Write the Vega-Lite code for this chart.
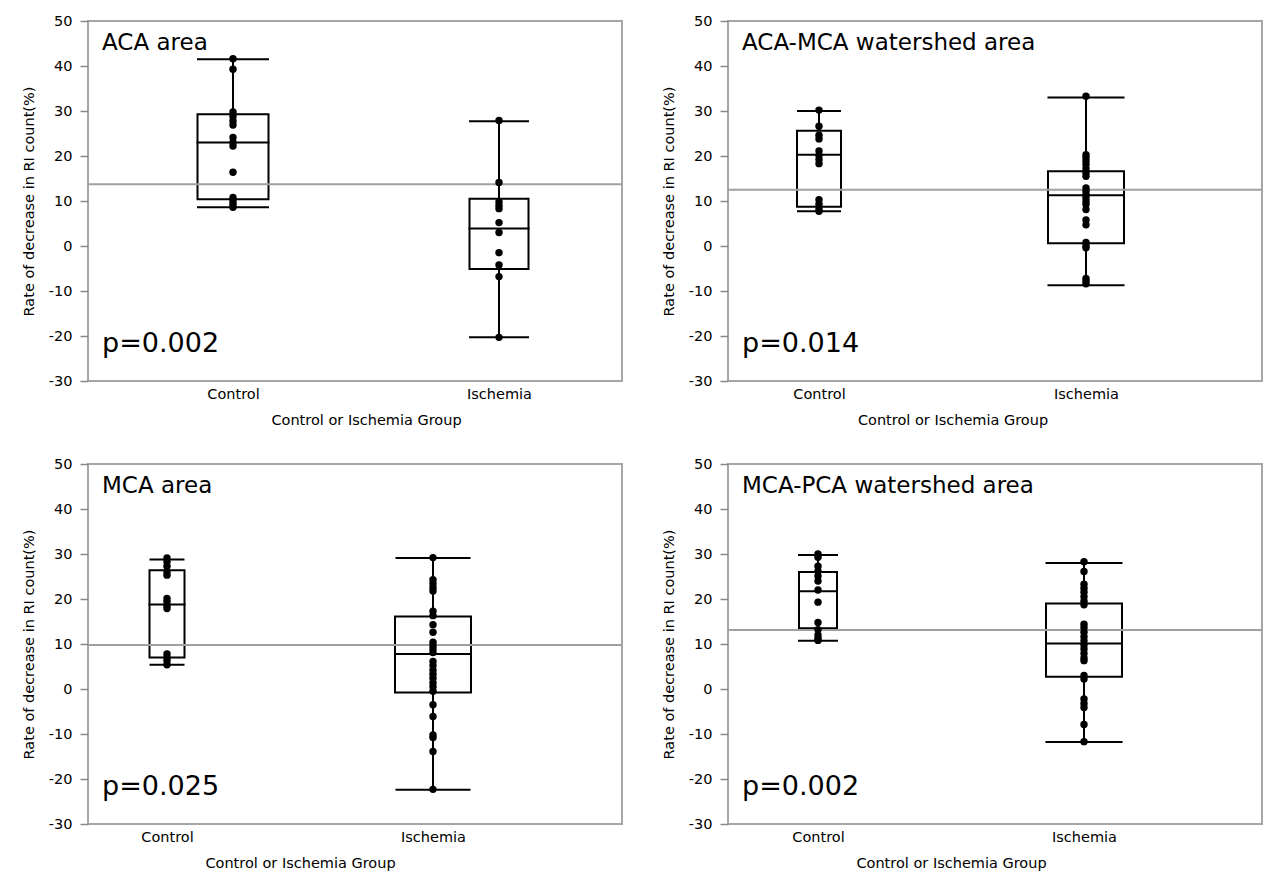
{
  "$schema": "https://vega.github.io/schema/vega-lite/v6.json",
  "background": "white",
  "padding": {"left": 20, "top": 12, "right": 0, "bottom": 0},
  "datasets": {
    "pts": [
      {"region": "ACA area", "group": "Control", "value": 41.6},
      {"region": "ACA area", "group": "Control", "value": 39.3},
      {"region": "ACA area", "group": "Control", "value": 29.8},
      {"region": "ACA area", "group": "Control", "value": 28.8},
      {"region": "ACA area", "group": "Control", "value": 27.8},
      {"region": "ACA area", "group": "Control", "value": 26.9},
      {"region": "ACA area", "group": "Control", "value": 24.1},
      {"region": "ACA area", "group": "Control", "value": 23.0},
      {"region": "ACA area", "group": "Control", "value": 22.2},
      {"region": "ACA area", "group": "Control", "value": 16.4},
      {"region": "ACA area", "group": "Control", "value": 10.8},
      {"region": "ACA area", "group": "Control", "value": 10.0},
      {"region": "ACA area", "group": "Control", "value": 9.3},
      {"region": "ACA area", "group": "Control", "value": 8.6},
      {"region": "ACA area", "group": "Ischemia", "value": 27.9},
      {"region": "ACA area", "group": "Ischemia", "value": 14.1},
      {"region": "ACA area", "group": "Ischemia", "value": 9.8},
      {"region": "ACA area", "group": "Ischemia", "value": 9.0},
      {"region": "ACA area", "group": "Ischemia", "value": 8.3},
      {"region": "ACA area", "group": "Ischemia", "value": 5.2},
      {"region": "ACA area", "group": "Ischemia", "value": 3.0},
      {"region": "ACA area", "group": "Ischemia", "value": -1.5},
      {"region": "ACA area", "group": "Ischemia", "value": -4.2},
      {"region": "ACA area", "group": "Ischemia", "value": -6.8},
      {"region": "ACA area", "group": "Ischemia", "value": -20.3},
      {"region": "ACA-MCA watershed area", "group": "Control", "value": 30.2},
      {"region": "ACA-MCA watershed area", "group": "Control", "value": 26.6},
      {"region": "ACA-MCA watershed area", "group": "Control", "value": 24.6},
      {"region": "ACA-MCA watershed area", "group": "Control", "value": 23.8},
      {"region": "ACA-MCA watershed area", "group": "Control", "value": 21.1},
      {"region": "ACA-MCA watershed area", "group": "Control", "value": 20.1},
      {"region": "ACA-MCA watershed area", "group": "Control", "value": 19.2},
      {"region": "ACA-MCA watershed area", "group": "Control", "value": 18.3},
      {"region": "ACA-MCA watershed area", "group": "Control", "value": 10.3},
      {"region": "ACA-MCA watershed area", "group": "Control", "value": 9.3},
      {"region": "ACA-MCA watershed area", "group": "Control", "value": 8.2},
      {"region": "ACA-MCA watershed area", "group": "Control", "value": 7.7},
      {"region": "ACA-MCA watershed area", "group": "Ischemia", "value": 33.3},
      {"region": "ACA-MCA watershed area", "group": "Ischemia", "value": 20.3},
      {"region": "ACA-MCA watershed area", "group": "Ischemia", "value": 19.6},
      {"region": "ACA-MCA watershed area", "group": "Ischemia", "value": 18.9},
      {"region": "ACA-MCA watershed area", "group": "Ischemia", "value": 18.1},
      {"region": "ACA-MCA watershed area", "group": "Ischemia", "value": 17.2},
      {"region": "ACA-MCA watershed area", "group": "Ischemia", "value": 16.3},
      {"region": "ACA-MCA watershed area", "group": "Ischemia", "value": 15.5},
      {"region": "ACA-MCA watershed area", "group": "Ischemia", "value": 12.9},
      {"region": "ACA-MCA watershed area", "group": "Ischemia", "value": 12.2},
      {"region": "ACA-MCA watershed area", "group": "Ischemia", "value": 11.4},
      {"region": "ACA-MCA watershed area", "group": "Ischemia", "value": 10.7},
      {"region": "ACA-MCA watershed area", "group": "Ischemia", "value": 10.0},
      {"region": "ACA-MCA watershed area", "group": "Ischemia", "value": 9.3},
      {"region": "ACA-MCA watershed area", "group": "Ischemia", "value": 8.1},
      {"region": "ACA-MCA watershed area", "group": "Ischemia", "value": 5.8},
      {"region": "ACA-MCA watershed area", "group": "Ischemia", "value": 4.7},
      {"region": "ACA-MCA watershed area", "group": "Ischemia", "value": 0.8},
      {"region": "ACA-MCA watershed area", "group": "Ischemia", "value": 0.0},
      {"region": "ACA-MCA watershed area", "group": "Ischemia", "value": -0.4},
      {"region": "ACA-MCA watershed area", "group": "Ischemia", "value": -7.2},
      {"region": "ACA-MCA watershed area", "group": "Ischemia", "value": -7.8},
      {"region": "ACA-MCA watershed area", "group": "Ischemia", "value": -8.4},
      {"region": "MCA area", "group": "Control", "value": 29.1},
      {"region": "MCA area", "group": "Control", "value": 28.3},
      {"region": "MCA area", "group": "Control", "value": 27.3},
      {"region": "MCA area", "group": "Control", "value": 26.0},
      {"region": "MCA area", "group": "Control", "value": 25.3},
      {"region": "MCA area", "group": "Control", "value": 20.1},
      {"region": "MCA area", "group": "Control", "value": 19.4},
      {"region": "MCA area", "group": "Control", "value": 18.5},
      {"region": "MCA area", "group": "Control", "value": 17.9},
      {"region": "MCA area", "group": "Control", "value": 7.8},
      {"region": "MCA area", "group": "Control", "value": 7.0},
      {"region": "MCA area", "group": "Control", "value": 6.3},
      {"region": "MCA area", "group": "Control", "value": 5.4},
      {"region": "MCA area", "group": "Ischemia", "value": 29.2},
      {"region": "MCA area", "group": "Ischemia", "value": 24.3},
      {"region": "MCA area", "group": "Ischemia", "value": 23.4},
      {"region": "MCA area", "group": "Ischemia", "value": 22.5},
      {"region": "MCA area", "group": "Ischemia", "value": 21.8},
      {"region": "MCA area", "group": "Ischemia", "value": 17.3},
      {"region": "MCA area", "group": "Ischemia", "value": 16.3},
      {"region": "MCA area", "group": "Ischemia", "value": 14.3},
      {"region": "MCA area", "group": "Ischemia", "value": 12.6},
      {"region": "MCA area", "group": "Ischemia", "value": 10.4},
      {"region": "MCA area", "group": "Ischemia", "value": 9.6},
      {"region": "MCA area", "group": "Ischemia", "value": 8.9},
      {"region": "MCA area", "group": "Ischemia", "value": 8.1},
      {"region": "MCA area", "group": "Ischemia", "value": 6.1},
      {"region": "MCA area", "group": "Ischemia", "value": 5.2},
      {"region": "MCA area", "group": "Ischemia", "value": 4.2},
      {"region": "MCA area", "group": "Ischemia", "value": 3.3},
      {"region": "MCA area", "group": "Ischemia", "value": 2.4},
      {"region": "MCA area", "group": "Ischemia", "value": 1.4},
      {"region": "MCA area", "group": "Ischemia", "value": 0.5},
      {"region": "MCA area", "group": "Ischemia", "value": -0.5},
      {"region": "MCA area", "group": "Ischemia", "value": -3.5},
      {"region": "MCA area", "group": "Ischemia", "value": -6.1},
      {"region": "MCA area", "group": "Ischemia", "value": -10.2},
      {"region": "MCA area", "group": "Ischemia", "value": -10.8},
      {"region": "MCA area", "group": "Ischemia", "value": -13.9},
      {"region": "MCA area", "group": "Ischemia", "value": -22.3},
      {"region": "MCA-PCA watershed area", "group": "Control", "value": 30.0},
      {"region": "MCA-PCA watershed area", "group": "Control", "value": 29.3},
      {"region": "MCA-PCA watershed area", "group": "Control", "value": 27.3},
      {"region": "MCA-PCA watershed area", "group": "Control", "value": 26.2},
      {"region": "MCA-PCA watershed area", "group": "Control", "value": 25.1},
      {"region": "MCA-PCA watershed area", "group": "Control", "value": 24.0},
      {"region": "MCA-PCA watershed area", "group": "Control", "value": 22.0},
      {"region": "MCA-PCA watershed area", "group": "Control", "value": 19.3},
      {"region": "MCA-PCA watershed area", "group": "Control", "value": 14.8},
      {"region": "MCA-PCA watershed area", "group": "Control", "value": 13.2},
      {"region": "MCA-PCA watershed area", "group": "Control", "value": 12.0},
      {"region": "MCA-PCA watershed area", "group": "Control", "value": 11.3},
      {"region": "MCA-PCA watershed area", "group": "Control", "value": 10.8},
      {"region": "MCA-PCA watershed area", "group": "Ischemia", "value": 28.3},
      {"region": "MCA-PCA watershed area", "group": "Ischemia", "value": 26.1},
      {"region": "MCA-PCA watershed area", "group": "Ischemia", "value": 23.3},
      {"region": "MCA-PCA watershed area", "group": "Ischemia", "value": 22.4},
      {"region": "MCA-PCA watershed area", "group": "Ischemia", "value": 21.5},
      {"region": "MCA-PCA watershed area", "group": "Ischemia", "value": 20.5},
      {"region": "MCA-PCA watershed area", "group": "Ischemia", "value": 19.5},
      {"region": "MCA-PCA watershed area", "group": "Ischemia", "value": 18.7},
      {"region": "MCA-PCA watershed area", "group": "Ischemia", "value": 14.4},
      {"region": "MCA-PCA watershed area", "group": "Ischemia", "value": 13.6},
      {"region": "MCA-PCA watershed area", "group": "Ischemia", "value": 12.6},
      {"region": "MCA-PCA watershed area", "group": "Ischemia", "value": 11.6},
      {"region": "MCA-PCA watershed area", "group": "Ischemia", "value": 10.7},
      {"region": "MCA-PCA watershed area", "group": "Ischemia", "value": 9.8},
      {"region": "MCA-PCA watershed area", "group": "Ischemia", "value": 8.9},
      {"region": "MCA-PCA watershed area", "group": "Ischemia", "value": 7.9},
      {"region": "MCA-PCA watershed area", "group": "Ischemia", "value": 6.9},
      {"region": "MCA-PCA watershed area", "group": "Ischemia", "value": 6.3},
      {"region": "MCA-PCA watershed area", "group": "Ischemia", "value": 3.0},
      {"region": "MCA-PCA watershed area", "group": "Ischemia", "value": 2.2},
      {"region": "MCA-PCA watershed area", "group": "Ischemia", "value": -2.2},
      {"region": "MCA-PCA watershed area", "group": "Ischemia", "value": -3.2},
      {"region": "MCA-PCA watershed area", "group": "Ischemia", "value": -4.1},
      {"region": "MCA-PCA watershed area", "group": "Ischemia", "value": -7.9},
      {"region": "MCA-PCA watershed area", "group": "Ischemia", "value": -11.7}
    ],
    "boxes": [
      {"region": "ACA area", "group": "Control", "min": 8.6, "q1": 10.4, "median": 23.0, "q3": 29.3, "max": 41.5},
      {"region": "ACA area", "group": "Ischemia", "min": -20.3, "q1": -5.1, "median": 3.9, "q3": 10.5, "max": 27.7},
      {"region": "ACA-MCA watershed area", "group": "Control", "min": 7.7, "q1": 8.7, "median": 20.3, "q3": 25.6, "max": 30.0},
      {"region": "ACA-MCA watershed area", "group": "Ischemia", "min": -8.7, "q1": 0.6, "median": 11.3, "q3": 16.6, "max": 33.0},
      {"region": "MCA area", "group": "Control", "min": 5.4, "q1": 7.0, "median": 18.8, "q3": 26.4, "max": 28.8},
      {"region": "MCA area", "group": "Ischemia", "min": -22.4, "q1": -0.8, "median": 7.8, "q3": 16.1, "max": 29.1},
      {"region": "MCA-PCA watershed area", "group": "Control", "min": 10.7, "q1": 13.5, "median": 21.7, "q3": 26.0, "max": 29.8},
      {"region": "MCA-PCA watershed area", "group": "Ischemia", "min": -11.8, "q1": 2.7, "median": 10.1, "q3": 19.0, "max": 28.0}
    ],
    "means": [
      {"region": "ACA area", "mean": 13.7},
      {"region": "ACA-MCA watershed area", "mean": 12.5},
      {"region": "MCA area", "mean": 9.8},
      {"region": "MCA-PCA watershed area", "mean": 13.1}
    ]
  },
  "columns": 2,
  "spacing": {"row": 27, "column": 36},
  "concat": [
    {
      "title": {"text": "ACA area", "subtitle": "p=0.002"},
      "width": 534, "height": 360,
      "resolve": {"scale": {"size": "independent"}},
      "layer": [
        {"data": {"name": "boxes"}, "transform": [{"filter": "datum.region === 'ACA area'"}],
         "mark": {"type": "rule", "color": "black", "strokeWidth": 2},
         "encoding": {
           "x": {"field": "group", "type": "nominal", "title": "Control or Ischemia Group", "scale": {"type": "point", "domain": ["Control", "Ischemia"], "range": [145, 411], "padding": 0}},
           "y": {"field": "min", "type": "quantitative", "title": "Rate of decrease in RI count(%)", "scale": {"domain": [-30, 50], "nice": false, "zero": false},
                 "axis": {"values": [-30, -25, -20, -15, -10, -5, 0, 5, 10, 15, 20, 25, 30, 35, 40, 45, 50], "labelExpr": "datum.value % 10 === 0 ? toString(datum.value) : ''", "tickSize": {"condition": {"test": "datum.value % 10 === 0", "value": 8}, "value": 4}, "labelOverlap": false}},
           "y2": {"field": "max"}}},
        {"data": {"name": "boxes"}, "transform": [{"filter": "datum.region === 'ACA area'"}],
         "mark": {"type": "bar", "fill": "white", "stroke": "black", "strokeWidth": 2},
         "encoding": {
           "x": {"field": "group", "type": "nominal", "title": "Control or Ischemia Group", "scale": {"type": "point", "domain": ["Control", "Ischemia"], "range": [145, 411], "padding": 0}},
           "y": {"field": "q1", "type": "quantitative", "title": "Rate of decrease in RI count(%)"},
           "y2": {"field": "q3"},
           "size": {"field": "group", "type": "nominal", "scale": {"domain": ["Control", "Ischemia"], "range": [71, 59]}, "legend": null}}},
        {"data": {"name": "means"}, "transform": [{"filter": "datum.region === 'ACA area'"}],
         "mark": {"type": "rule", "color": "#a0a0a0", "strokeWidth": 2},
         "encoding": {"y": {"field": "mean", "type": "quantitative", "title": "Rate of decrease in RI count(%)"}}},
        {"data": {"name": "boxes"}, "transform": [{"filter": "datum.region === 'ACA area'"}],
         "mark": {"type": "tick", "color": "black", "thickness": 2, "opacity": 1},
         "encoding": {
           "x": {"field": "group", "type": "nominal", "title": "Control or Ischemia Group", "scale": {"type": "point", "domain": ["Control", "Ischemia"], "range": [145, 411], "padding": 0}},
           "y": {"field": "median", "type": "quantitative", "title": "Rate of decrease in RI count(%)"},
           "size": {"field": "group", "type": "nominal", "scale": {"domain": ["Control", "Ischemia"], "range": [73, 61]}, "legend": null}}},
        {"data": {"name": "boxes"}, "transform": [{"filter": "datum.region === 'ACA area'"}],
         "mark": {"type": "tick", "color": "black", "thickness": 2, "opacity": 1},
         "encoding": {
           "x": {"field": "group", "type": "nominal", "title": "Control or Ischemia Group", "scale": {"type": "point", "domain": ["Control", "Ischemia"], "range": [145, 411], "padding": 0}},
           "y": {"field": "min", "type": "quantitative", "title": "Rate of decrease in RI count(%)"},
           "size": {"field": "group", "type": "nominal", "scale": {"domain": ["Control", "Ischemia"], "range": [72, 60]}, "legend": null}}},
        {"data": {"name": "boxes"}, "transform": [{"filter": "datum.region === 'ACA area'"}],
         "mark": {"type": "tick", "color": "black", "thickness": 2, "opacity": 1},
         "encoding": {
           "x": {"field": "group", "type": "nominal", "title": "Control or Ischemia Group", "scale": {"type": "point", "domain": ["Control", "Ischemia"], "range": [145, 411], "padding": 0}},
           "y": {"field": "max", "type": "quantitative", "title": "Rate of decrease in RI count(%)"},
           "size": {"field": "group", "type": "nominal", "scale": {"domain": ["Control", "Ischemia"], "range": [72, 60]}, "legend": null}}},
        {"data": {"name": "pts"}, "transform": [{"filter": "datum.region === 'ACA area'"}],
         "mark": {"type": "circle", "color": "black", "opacity": 1, "size": 55},
         "encoding": {
           "x": {"field": "group", "type": "nominal", "title": "Control or Ischemia Group", "scale": {"type": "point", "domain": ["Control", "Ischemia"], "range": [145, 411], "padding": 0}},
           "y": {"field": "value", "type": "quantitative", "title": "Rate of decrease in RI count(%)"}}}
      ]
    },
    {
      "title": {"text": "ACA-MCA watershed area", "subtitle": "p=0.014"},
      "width": 534, "height": 360,
      "resolve": {"scale": {"size": "independent"}},
      "layer": [
        {"data": {"name": "boxes"}, "transform": [{"filter": "datum.region === 'ACA-MCA watershed area'"}],
         "mark": {"type": "rule", "color": "black", "strokeWidth": 2},
         "encoding": {
           "x": {"field": "group", "type": "nominal", "title": "Control or Ischemia Group", "scale": {"type": "point", "domain": ["Control", "Ischemia"], "range": [91, 358], "padding": 0}},
           "y": {"field": "min", "type": "quantitative", "title": "Rate of decrease in RI count(%)", "scale": {"domain": [-30, 50], "nice": false, "zero": false},
                 "axis": {"values": [-30, -25, -20, -15, -10, -5, 0, 5, 10, 15, 20, 25, 30, 35, 40, 45, 50], "labelExpr": "datum.value % 10 === 0 ? toString(datum.value) : ''", "tickSize": {"condition": {"test": "datum.value % 10 === 0", "value": 8}, "value": 4}, "labelOverlap": false}},
           "y2": {"field": "max"}}},
        {"data": {"name": "boxes"}, "transform": [{"filter": "datum.region === 'ACA-MCA watershed area'"}],
         "mark": {"type": "bar", "fill": "white", "stroke": "black", "strokeWidth": 2},
         "encoding": {
           "x": {"field": "group", "type": "nominal", "title": "Control or Ischemia Group", "scale": {"type": "point", "domain": ["Control", "Ischemia"], "range": [91, 358], "padding": 0}},
           "y": {"field": "q1", "type": "quantitative", "title": "Rate of decrease in RI count(%)"},
           "y2": {"field": "q3"},
           "size": {"field": "group", "type": "nominal", "scale": {"domain": ["Control", "Ischemia"], "range": [44, 76]}, "legend": null}}},
        {"data": {"name": "means"}, "transform": [{"filter": "datum.region === 'ACA-MCA watershed area'"}],
         "mark": {"type": "rule", "color": "#a0a0a0", "strokeWidth": 2},
         "encoding": {"y": {"field": "mean", "type": "quantitative", "title": "Rate of decrease in RI count(%)"}}},
        {"data": {"name": "boxes"}, "transform": [{"filter": "datum.region === 'ACA-MCA watershed area'"}],
         "mark": {"type": "tick", "color": "black", "thickness": 2, "opacity": 1},
         "encoding": {
           "x": {"field": "group", "type": "nominal", "title": "Control or Ischemia Group", "scale": {"type": "point", "domain": ["Control", "Ischemia"], "range": [91, 358], "padding": 0}},
           "y": {"field": "median", "type": "quantitative", "title": "Rate of decrease in RI count(%)"},
           "size": {"field": "group", "type": "nominal", "scale": {"domain": ["Control", "Ischemia"], "range": [46, 78]}, "legend": null}}},
        {"data": {"name": "boxes"}, "transform": [{"filter": "datum.region === 'ACA-MCA watershed area'"}],
         "mark": {"type": "tick", "color": "black", "thickness": 2, "opacity": 1},
         "encoding": {
           "x": {"field": "group", "type": "nominal", "title": "Control or Ischemia Group", "scale": {"type": "point", "domain": ["Control", "Ischemia"], "range": [91, 358], "padding": 0}},
           "y": {"field": "min", "type": "quantitative", "title": "Rate of decrease in RI count(%)"},
           "size": {"field": "group", "type": "nominal", "scale": {"domain": ["Control", "Ischemia"], "range": [44, 77]}, "legend": null}}},
        {"data": {"name": "boxes"}, "transform": [{"filter": "datum.region === 'ACA-MCA watershed area'"}],
         "mark": {"type": "tick", "color": "black", "thickness": 2, "opacity": 1},
         "encoding": {
           "x": {"field": "group", "type": "nominal", "title": "Control or Ischemia Group", "scale": {"type": "point", "domain": ["Control", "Ischemia"], "range": [91, 358], "padding": 0}},
           "y": {"field": "max", "type": "quantitative", "title": "Rate of decrease in RI count(%)"},
           "size": {"field": "group", "type": "nominal", "scale": {"domain": ["Control", "Ischemia"], "range": [44, 77]}, "legend": null}}},
        {"data": {"name": "pts"}, "transform": [{"filter": "datum.region === 'ACA-MCA watershed area'"}],
         "mark": {"type": "circle", "color": "black", "opacity": 1, "size": 55},
         "encoding": {
           "x": {"field": "group", "type": "nominal", "title": "Control or Ischemia Group", "scale": {"type": "point", "domain": ["Control", "Ischemia"], "range": [91, 358], "padding": 0}},
           "y": {"field": "value", "type": "quantitative", "title": "Rate of decrease in RI count(%)"}}}
      ]
    },
    {
      "title": {"text": "MCA area", "subtitle": "p=0.025"},
      "width": 534, "height": 360,
      "resolve": {"scale": {"size": "independent"}},
      "layer": [
        {"data": {"name": "boxes"}, "transform": [{"filter": "datum.region === 'MCA area'"}],
         "mark": {"type": "rule", "color": "black", "strokeWidth": 2},
         "encoding": {
           "x": {"field": "group", "type": "nominal", "title": "Control or Ischemia Group", "scale": {"type": "point", "domain": ["Control", "Ischemia"], "range": [79, 345], "padding": 0}},
           "y": {"field": "min", "type": "quantitative", "title": "Rate of decrease in RI count(%)", "scale": {"domain": [-30, 50], "nice": false, "zero": false},
                 "axis": {"values": [-30, -25, -20, -15, -10, -5, 0, 5, 10, 15, 20, 25, 30, 35, 40, 45, 50], "labelExpr": "datum.value % 10 === 0 ? toString(datum.value) : ''", "tickSize": {"condition": {"test": "datum.value % 10 === 0", "value": 8}, "value": 4}, "labelOverlap": false}},
           "y2": {"field": "max"}}},
        {"data": {"name": "boxes"}, "transform": [{"filter": "datum.region === 'MCA area'"}],
         "mark": {"type": "bar", "fill": "white", "stroke": "black", "strokeWidth": 2},
         "encoding": {
           "x": {"field": "group", "type": "nominal", "title": "Control or Ischemia Group", "scale": {"type": "point", "domain": ["Control", "Ischemia"], "range": [79, 345], "padding": 0}},
           "y": {"field": "q1", "type": "quantitative", "title": "Rate of decrease in RI count(%)"},
           "y2": {"field": "q3"},
           "size": {"field": "group", "type": "nominal", "scale": {"domain": ["Control", "Ischemia"], "range": [35, 76]}, "legend": null}}},
        {"data": {"name": "means"}, "transform": [{"filter": "datum.region === 'MCA area'"}],
         "mark": {"type": "rule", "color": "#a0a0a0", "strokeWidth": 2},
         "encoding": {"y": {"field": "mean", "type": "quantitative", "title": "Rate of decrease in RI count(%)"}}},
        {"data": {"name": "boxes"}, "transform": [{"filter": "datum.region === 'MCA area'"}],
         "mark": {"type": "tick", "color": "black", "thickness": 2, "opacity": 1},
         "encoding": {
           "x": {"field": "group", "type": "nominal", "title": "Control or Ischemia Group", "scale": {"type": "point", "domain": ["Control", "Ischemia"], "range": [79, 345], "padding": 0}},
           "y": {"field": "median", "type": "quantitative", "title": "Rate of decrease in RI count(%)"},
           "size": {"field": "group", "type": "nominal", "scale": {"domain": ["Control", "Ischemia"], "range": [37, 78]}, "legend": null}}},
        {"data": {"name": "boxes"}, "transform": [{"filter": "datum.region === 'MCA area'"}],
         "mark": {"type": "tick", "color": "black", "thickness": 2, "opacity": 1},
         "encoding": {
           "x": {"field": "group", "type": "nominal", "title": "Control or Ischemia Group", "scale": {"type": "point", "domain": ["Control", "Ischemia"], "range": [79, 345], "padding": 0}},
           "y": {"field": "min", "type": "quantitative", "title": "Rate of decrease in RI count(%)"},
           "size": {"field": "group", "type": "nominal", "scale": {"domain": ["Control", "Ischemia"], "range": [35, 75]}, "legend": null}}},
        {"data": {"name": "boxes"}, "transform": [{"filter": "datum.region === 'MCA area'"}],
         "mark": {"type": "tick", "color": "black", "thickness": 2, "opacity": 1},
         "encoding": {
           "x": {"field": "group", "type": "nominal", "title": "Control or Ischemia Group", "scale": {"type": "point", "domain": ["Control", "Ischemia"], "range": [79, 345], "padding": 0}},
           "y": {"field": "max", "type": "quantitative", "title": "Rate of decrease in RI count(%)"},
           "size": {"field": "group", "type": "nominal", "scale": {"domain": ["Control", "Ischemia"], "range": [35, 75]}, "legend": null}}},
        {"data": {"name": "pts"}, "transform": [{"filter": "datum.region === 'MCA area'"}],
         "mark": {"type": "circle", "color": "black", "opacity": 1, "size": 55},
         "encoding": {
           "x": {"field": "group", "type": "nominal", "title": "Control or Ischemia Group", "scale": {"type": "point", "domain": ["Control", "Ischemia"], "range": [79, 345], "padding": 0}},
           "y": {"field": "value", "type": "quantitative", "title": "Rate of decrease in RI count(%)"}}}
      ]
    },
    {
      "title": {"text": "MCA-PCA watershed area", "subtitle": "p=0.002"},
      "width": 534, "height": 360,
      "resolve": {"scale": {"size": "independent"}},
      "layer": [
        {"data": {"name": "boxes"}, "transform": [{"filter": "datum.region === 'MCA-PCA watershed area'"}],
         "mark": {"type": "rule", "color": "black", "strokeWidth": 2},
         "encoding": {
           "x": {"field": "group", "type": "nominal", "title": "Control or Ischemia Group", "scale": {"type": "point", "domain": ["Control", "Ischemia"], "range": [90, 356], "padding": 0}},
           "y": {"field": "min", "type": "quantitative", "title": "Rate of decrease in RI count(%)", "scale": {"domain": [-30, 50], "nice": false, "zero": false},
                 "axis": {"values": [-30, -25, -20, -15, -10, -5, 0, 5, 10, 15, 20, 25, 30, 35, 40, 45, 50], "labelExpr": "datum.value % 10 === 0 ? toString(datum.value) : ''", "tickSize": {"condition": {"test": "datum.value % 10 === 0", "value": 8}, "value": 4}, "labelOverlap": false}},
           "y2": {"field": "max"}}},
        {"data": {"name": "boxes"}, "transform": [{"filter": "datum.region === 'MCA-PCA watershed area'"}],
         "mark": {"type": "bar", "fill": "white", "stroke": "black", "strokeWidth": 2},
         "encoding": {
           "x": {"field": "group", "type": "nominal", "title": "Control or Ischemia Group", "scale": {"type": "point", "domain": ["Control", "Ischemia"], "range": [90, 356], "padding": 0}},
           "y": {"field": "q1", "type": "quantitative", "title": "Rate of decrease in RI count(%)"},
           "y2": {"field": "q3"},
           "size": {"field": "group", "type": "nominal", "scale": {"domain": ["Control", "Ischemia"], "range": [38, 76]}, "legend": null}}},
        {"data": {"name": "means"}, "transform": [{"filter": "datum.region === 'MCA-PCA watershed area'"}],
         "mark": {"type": "rule", "color": "#a0a0a0", "strokeWidth": 2},
         "encoding": {"y": {"field": "mean", "type": "quantitative", "title": "Rate of decrease in RI count(%)"}}},
        {"data": {"name": "boxes"}, "transform": [{"filter": "datum.region === 'MCA-PCA watershed area'"}],
         "mark": {"type": "tick", "color": "black", "thickness": 2, "opacity": 1},
         "encoding": {
           "x": {"field": "group", "type": "nominal", "title": "Control or Ischemia Group", "scale": {"type": "point", "domain": ["Control", "Ischemia"], "range": [90, 356], "padding": 0}},
           "y": {"field": "median", "type": "quantitative", "title": "Rate of decrease in RI count(%)"},
           "size": {"field": "group", "type": "nominal", "scale": {"domain": ["Control", "Ischemia"], "range": [40, 78]}, "legend": null}}},
        {"data": {"name": "boxes"}, "transform": [{"filter": "datum.region === 'MCA-PCA watershed area'"}],
         "mark": {"type": "tick", "color": "black", "thickness": 2, "opacity": 1},
         "encoding": {
           "x": {"field": "group", "type": "nominal", "title": "Control or Ischemia Group", "scale": {"type": "point", "domain": ["Control", "Ischemia"], "range": [90, 356], "padding": 0}},
           "y": {"field": "min", "type": "quantitative", "title": "Rate of decrease in RI count(%)"},
           "size": {"field": "group", "type": "nominal", "scale": {"domain": ["Control", "Ischemia"], "range": [40, 77]}, "legend": null}}},
        {"data": {"name": "boxes"}, "transform": [{"filter": "datum.region === 'MCA-PCA watershed area'"}],
         "mark": {"type": "tick", "color": "black", "thickness": 2, "opacity": 1},
         "encoding": {
           "x": {"field": "group", "type": "nominal", "title": "Control or Ischemia Group", "scale": {"type": "point", "domain": ["Control", "Ischemia"], "range": [90, 356], "padding": 0}},
           "y": {"field": "max", "type": "quantitative", "title": "Rate of decrease in RI count(%)"},
           "size": {"field": "group", "type": "nominal", "scale": {"domain": ["Control", "Ischemia"], "range": [40, 77]}, "legend": null}}},
        {"data": {"name": "pts"}, "transform": [{"filter": "datum.region === 'MCA-PCA watershed area'"}],
         "mark": {"type": "circle", "color": "black", "opacity": 1, "size": 55},
         "encoding": {
           "x": {"field": "group", "type": "nominal", "title": "Control or Ischemia Group", "scale": {"type": "point", "domain": ["Control", "Ischemia"], "range": [90, 356], "padding": 0}},
           "y": {"field": "value", "type": "quantitative", "title": "Rate of decrease in RI count(%)"}}}
      ]
    }
  ],
  "config": {
    "font": "DejaVu Sans",
    "view": {"stroke": "#a6a6a6", "strokeWidth": 2},
    "axis": {"grid": false, "domain": false, "labelColor": "#000", "titleColor": "#000", "labelFont": "DejaVu Sans", "titleFont": "DejaVu Sans", "labelFontSize": 14.5, "titleFontSize": 14.5, "titleFontWeight": "normal", "tickColor": "#888", "tickWidth": 1.5},
    "axisX": {"ticks": false, "labelAngle": 0, "labelPadding": 6, "titlePadding": 13},
    "axisY": {"labelPadding": 8, "titlePadding": 12},
    "title": {"anchor": "start", "frame": "group", "orient": "top", "offset": -344, "dx": 14, "font": "DejaVu Sans", "fontSize": 23, "fontWeight": "normal", "color": "#000", "subtitleFont": "DejaVu Sans", "subtitleFontSize": 27, "subtitleColor": "#000", "subtitlePadding": 276}
  }
}
